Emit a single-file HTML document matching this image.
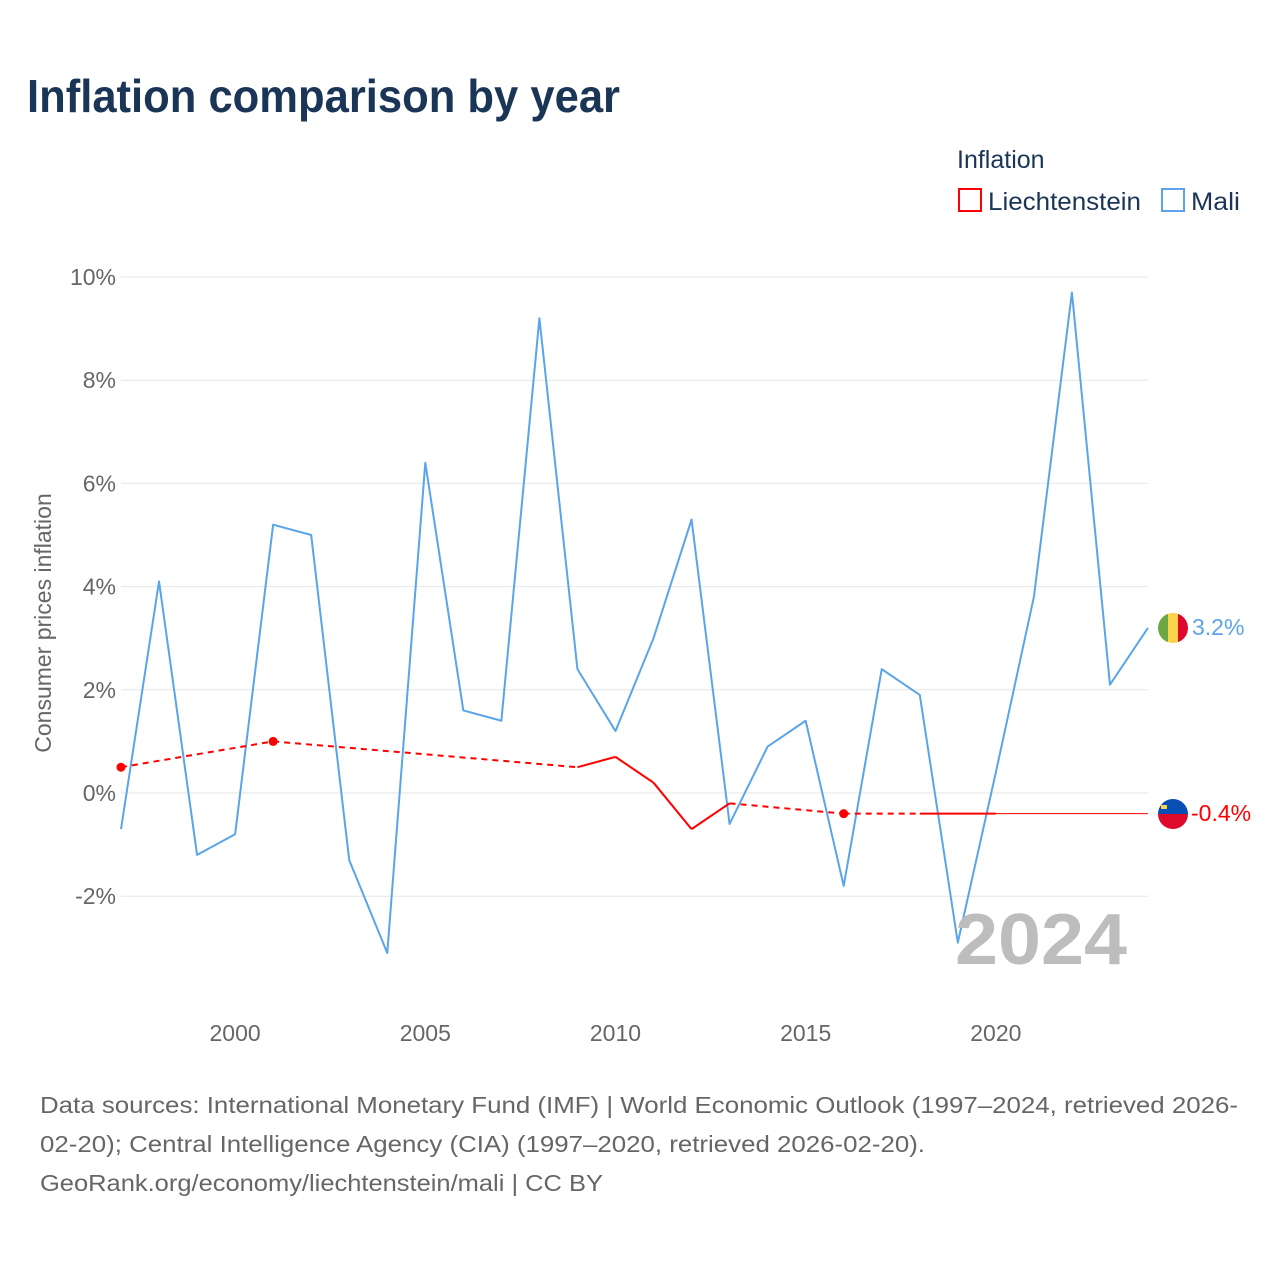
<!DOCTYPE html>
<html><head><meta charset="utf-8">
<style>
body{margin:0;background:#fff;font-family:"Liberation Sans",sans-serif;}
#wrap{position:relative;width:1280px;height:1280px;}
</style></head>
<body>
<div id="wrap">
<svg id="chart" width="1280" height="1280" xmlns="http://www.w3.org/2000/svg">
<text x="27" y="112" font-size="46" font-weight="bold" fill="#1a3556" textLength="593" lengthAdjust="spacingAndGlyphs">Inflation comparison by year</text>
<text x="957" y="168" font-size="25" fill="#1a3556">Inflation</text>
<g>
<rect x="959" y="189" width="22" height="22" fill="none" stroke="#ff0000" stroke-width="2"/>
<text x="988" y="210" font-size="25" fill="#1a3556" textLength="153" lengthAdjust="spacingAndGlyphs">Liechtenstein</text></g>
<g>
<rect x="1162" y="189" width="22" height="22" fill="none" stroke="#5aa4ea" stroke-width="2"/>
<text x="1191" y="210" font-size="25" fill="#1a3556" textLength="49" lengthAdjust="spacingAndGlyphs">Mali</text></g>
<g id="grid"></g>
<g id="series"></g>
<text x="955" y="964" font-size="72" font-weight="bold" fill="#bdbdbd" textLength="172" lengthAdjust="spacingAndGlyphs">2024</text>
<text transform="translate(51,623) rotate(-90)" text-anchor="middle" font-size="23" fill="#666">Consumer prices inflation</text>
<g>
<clipPath id="cm"><circle cx="1173" cy="628" r="15"/></clipPath>
<g clip-path="url(#cm)"><rect x="1158" y="613" width="10" height="30" fill="#6ea644"/><rect x="1168" y="613" width="10" height="30" fill="#fcd449"/><rect x="1178" y="613" width="10" height="30" fill="#de0a2b"/></g></g>
<g>
<clipPath id="cl"><circle cx="1173" cy="814" r="15"/></clipPath>
<g clip-path="url(#cl)"><rect x="1158" y="799" width="30" height="15" fill="#0a50b4"/><rect x="1158" y="814" width="30" height="15" fill="#de0a2b"/><rect x="1161" y="805" width="6" height="4" fill="#fcd449"/></g></g>
<text x="1192" y="635" font-size="23" fill="#5aa4ea">3.2%</text>
<text x="1191" y="821" font-size="23" fill="#ff0000">-0.4%</text>
<g font-size="23" fill="#666">
<text x="40" y="1113" textLength="1198" lengthAdjust="spacingAndGlyphs">Data sources: International Monetary Fund (IMF) | World Economic Outlook (1997–2024, retrieved 2026-</text>
<text x="40" y="1152" textLength="885" lengthAdjust="spacingAndGlyphs">02-20); Central Intelligence Agency (CIA) (1997–2020, retrieved 2026-02-20).</text>
<text x="40" y="1191" textLength="563" lengthAdjust="spacingAndGlyphs">GeoRank.org/economy/liechtenstein/mali | CC BY</text></g>
</svg>
</div>
<script>
const years = [1997,1998,1999,2000,2001,2002,2003,2004,2005,2006,2007,2008,2009,2010,2011,2012,2013,2014,2015,2016,2017,2018,2019,2020,2021,2022,2023,2024];
const maliValues = [-0.7,4.1,-1.2,-0.8,5.2,5.0,-1.3,-3.1,6.4,1.6,1.4,9.2,2.4,1.2,3.0,5.3,-0.6,0.9,1.4,-1.8,2.4,1.9,-2.9,0.4,3.8,9.7,2.1,3.2];
const liYears = [1997,2001,2009,2010,2011,2012,2013,2016,2018,2019,2020];
const liValues = [0.5,1.0,0.5,0.7,0.2,-0.7,-0.2,-0.4,-0.4,-0.4,-0.4];
const yTicks = [-2,0,2,4,6,8,10];
const xTicks = [2000,2005,2010,2015,2020];
const liLast = -0.4;

const NS="http://www.w3.org/2000/svg";
const X=y=>121+(y-1997)*(1148-121)/27;
const Y=v=>793-v*51.6;
function mk(t,a,p){const e=document.createElementNS(NS,t);for(const k in a)e.setAttribute(k,a[k]);p.appendChild(e);return e;}
const grid=document.getElementById('grid'), ser=document.getElementById('series');
yTicks.forEach(t=>{
  const l=mk('line',{x1:121,x2:1148,y1:Y(t),y2:Y(t),stroke:'#e6e6e6','stroke-width':1},grid);
  
  
  const tx=mk('text',{x:116,y:Y(t)+8,'text-anchor':'end','font-size':23,fill:'#666'},grid);
  tx.textContent=t+'%';
  
  
});
xTicks.forEach(t=>{
  const tx=mk('text',{x:X(t),y:1041,'text-anchor':'middle','font-size':23,fill:'#666'},grid);
  tx.textContent=t;
  
  
});
const ext=mk('line',{x1:X(liYears[liYears.length-1]),x2:1148,y1:Y(liLast),y2:Y(liLast),stroke:'#ff0000','stroke-width':1},ser);


const mp=mk('polyline',{points:years.map((y,i)=>X(y)+','+Y(maliValues[i])).join(' '),fill:'none',stroke:'#5aa4ea','stroke-width':2,'stroke-linejoin':'round'},ser);


for(let i=0;i<liYears.length-1;i++){
  const gap=liYears[i+1]-liYears[i]>1;
  const s=mk('line',{x1:X(liYears[i]),y1:Y(liValues[i]),x2:X(liYears[i+1]),y2:Y(liValues[i+1]),stroke:'#ff0000','stroke-width':2,'stroke-dasharray':gap?'6,5':'none'},ser);
  
  
}
liYears.forEach((y,i)=>{
  const prev=i>0&&liYears[i-1]===y-1, next=i<liYears.length-1&&liYears[i+1]===y+1;
  if(!prev&&!next){
    const c=mk('circle',{cx:X(y),cy:Y(liValues[i]),r:4.5,fill:'#ff0000'},ser);
    
    
  }
});
</script>
</body></html>
